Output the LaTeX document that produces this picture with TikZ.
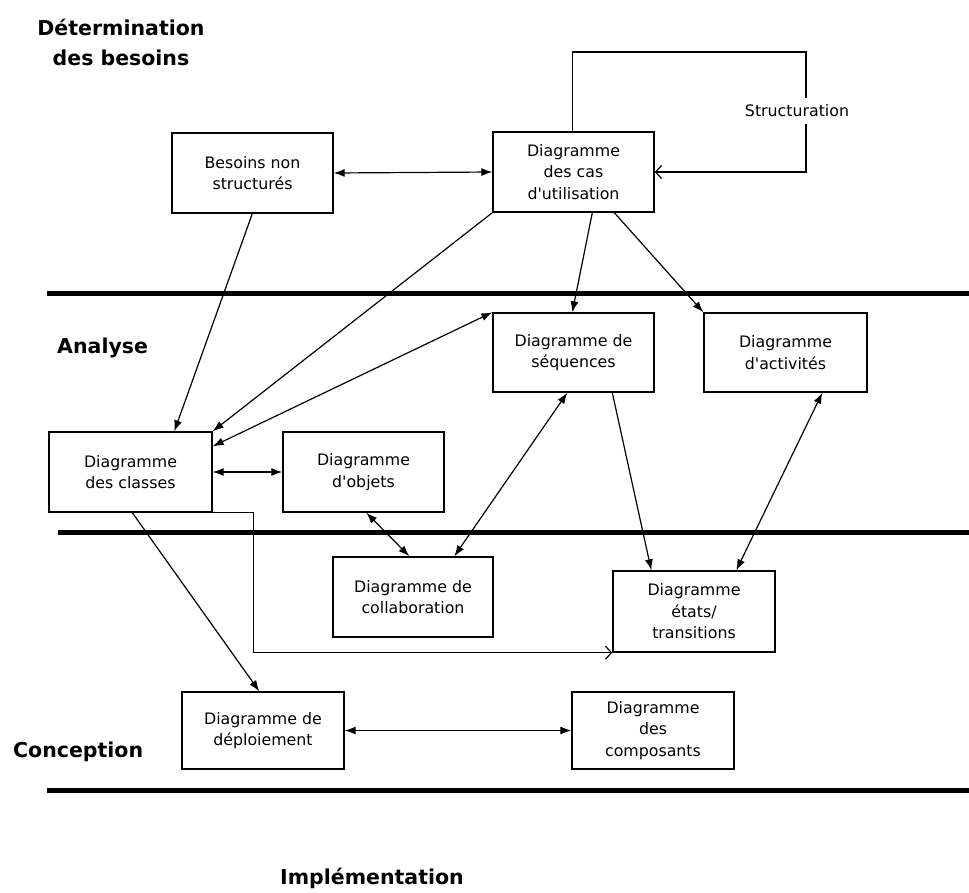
\documentclass[tikz,border=0pt]{standalone}
\usepackage{fontspec}
\usetikzlibrary{arrows.meta}
\newfontfamily\dvs{DejaVu Sans}
\newcommand\apo{\textquotesingle}
\begin{document}
\begin{tikzpicture}[x=1pt,y=-1pt,
  box/.style={draw, line width=1.4pt, minimum width=161pt, minimum height=80pt,
    align=center, inner sep=0pt, font=\dvs\fontsize{15.8}{21.5}\selectfont},
  conn/.style={line width=1.2pt},
  one/.style={conn, -{Latex[length=11pt,width=8pt]}},
  two/.style={conn, {Latex[length=11pt,width=8pt]}-{Latex[length=11pt,width=8pt]}},
  openarr/.style={conn, -{Straight Barb[length=6pt,width=13pt]}},
  phase/.style={font=\dvs\bfseries\fontsize{20.5}{30}\selectfont, inner sep=0pt},
  sepline/.style={line width=5pt}]
\useasboundingbox (0,0) rectangle (969,892);

% phase separators
\draw[sepline] (47,293) -- (969,293);
\draw[sepline] (58,532) -- (969,532);
\draw[sepline] (47,790) -- (969,790);

% phase titles
\node[phase, anchor=base] (t1) at (121,35) {Détermination};
\node[phase, anchor=base] (t2) at (121,65) {des besoins};
\node[phase, anchor=base west] (t3) at (57,353) {Analyse};
\node[phase, anchor=base west] (t4) at (13,757) {Conception};
\node[phase, anchor=base west] (t5) at (280,884) {Implémentation};

% boxes
\node[box] (bes) at (252.5,173) {Besoins non\\structurés};
\node[box] (cas) at (573.5,172) {Diagramme\\des cas\\d\apo utilisation};
\node[box, minimum height=79pt] (seq) at (573.5,352.5) {Diagramme de\\séquences};
\node[box, minimum width=163pt, minimum height=79pt] (act) at (785.5,352.5) {Diagramme\\d\apo activités};
\node[box, minimum width=163pt] (cla) at (130.5,472) {Diagramme\\des classes};
\node[box] (obj) at (363.5,472) {Diagramme\\d\apo objets};
\node[box, minimum width=160pt] (col) at (413,597) {Diagramme de\\collaboration};
\node[box, minimum width=162pt, minimum height=81pt] (eta) at (694,611.5) {Diagramme\\états/\\transitions};
\node[box, minimum width=162pt, minimum height=77pt] (dep) at (263,730.5) {Diagramme de\\déploiement};
\node[box, minimum width=162pt, minimum height=77pt] (com) at (653,730.5) {Diagramme\\des\\composants};

% structuration loop
\coordinate (loopc) at (806,52);
\draw[openarr] ([xshift=80pt]cas.north west) |- (loopc) |- (cas.east);
\node[fill=white, inner xsep=2pt, inner ysep=7pt, font=\dvs\fontsize{15.8}{21.5}\selectfont] (struct) at (797,111) {Structuration};

% connectors
\draw[two] (bes.east) -- (cas.west);
\draw[one] ([xshift=81pt]bes.south west) -- ([xshift=126pt]cla.north west);
\draw[one] (cas.south west) -- (cla.north east);
\draw[two] (seq.north west) -- ([yshift=-15pt]cla.north east);
\draw[one] ([xshift=100pt]cas.south west) -- ([xshift=80pt]seq.north west);
\draw[one] ([xshift=122pt]cas.south west) -- (act.north west);
\draw[two] (cla.east) -- (obj.west);
\draw[two] ([xshift=84pt]obj.south west) -- ([xshift=77pt]col.north west);
\draw[two] ([xshift=75pt]seq.south west) -- ([xshift=122pt]col.north west);
\draw[one] ([xshift=120pt]seq.south west) -- ([xshift=39pt]eta.north west);
\draw[two] ([xshift=119pt]act.south west) -- ([xshift=124pt]eta.north west);
\draw[one] ([xshift=84pt]cla.south west) -- ([xshift=78pt]dep.north west);
\draw[openarr] (cla.south east) -- ++(41,0) |- (eta.south west);
\draw[two] (dep.east) -- (com.west);
\end{tikzpicture}
\end{document}
